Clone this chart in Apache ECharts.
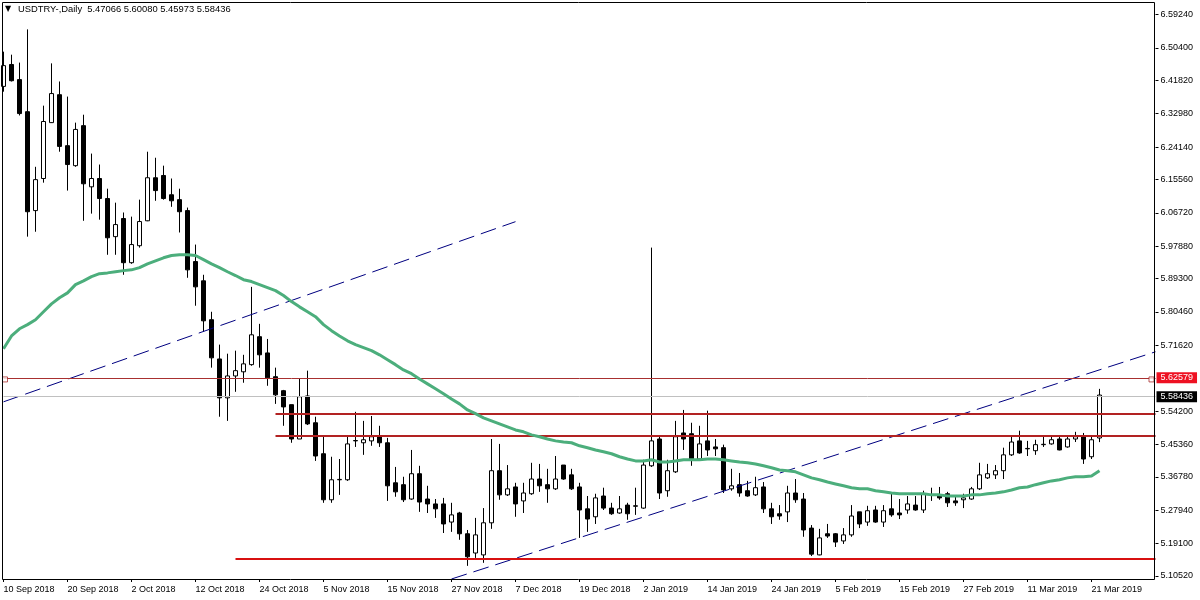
<!DOCTYPE html>
<html><head><meta charset="utf-8">
<script src="https://cdn.jsdelivr.net/npm/echarts@6/dist/echarts.min.js"></script>
<style>html,body{margin:0;padding:0;background:#fff}#c{width:1200px;height:600px}</style>
</head><body><div id="c"></div>
<script>
const dateTicks=['10 Sep 2018','20 Sep 2018','2 Oct 2018','12 Oct 2018','24 Oct 2018','5 Nov 2018','15 Nov 2018','27 Nov 2018','7 Dec 2018','19 Dec 2018','2 Jan 2019','14 Jan 2019','24 Jan 2019','5 Feb 2019','15 Feb 2019','27 Feb 2019','11 Mar 2019','21 Mar 2019'];
const priceTicks=[6.5924,6.504,6.4182,6.3298,6.2414,6.1556,6.0672,5.9788,5.893,5.8046,5.7162,5.542,5.4536,5.3678,5.2794,5.191,5.1052];
const opens=[6.402,6.460,6.420,6.335,6.073,6.158,6.306,6.380,6.245,6.192,6.298,6.136,6.158,6.105,6.004,6.052,5.935,5.980,6.046,6.160,
6.166,6.115,6.102,6.073,5.938,5.887,5.784,5.680,5.577,5.635,5.646,5.665,5.739,5.696,5.633,5.596,5.559,5.468,5.582,5.511,
5.429,5.307,5.360,5.360,5.463,5.458,5.463,5.474,5.458,5.352,5.347,5.309,5.376,5.309,5.296,5.296,5.248,5.272,5.217,5.166,
5.161,5.246,5.384,5.320,5.341,5.304,5.323,5.362,5.347,5.336,5.399,5.373,5.341,5.283,5.262,5.317,5.285,5.272,5.293,5.291,
5.285,5.397,5.468,5.331,5.381,5.484,5.482,5.415,5.463,5.447,5.445,5.336,5.347,5.331,5.320,5.341,5.283,5.270,5.275,5.325,
5.309,5.232,5.161,5.217,5.217,5.198,5.214,5.275,5.248,5.280,5.248,5.283,5.272,5.280,5.293,5.280,5.320,5.317,5.323,5.304,
5.307,5.309,5.336,5.365,5.373,5.384,5.426,5.463,5.443,5.437,5.453,5.455,5.468,5.447,5.468,5.474,5.421,5.47066];
const closes=[6.457,6.417,6.330,6.070,6.155,6.309,6.383,6.243,6.195,6.288,6.144,6.158,6.105,6.001,6.036,5.935,5.983,6.044,6.160,6.126,
6.105,6.099,6.070,5.916,5.871,5.781,5.683,5.577,5.635,5.649,5.667,5.744,5.691,5.630,5.585,5.553,5.468,5.580,5.508,5.423,
5.307,5.360,5.361,5.455,5.464,5.466,5.474,5.458,5.344,5.328,5.307,5.376,5.301,5.296,5.283,5.243,5.267,5.217,5.156,5.214,
5.246,5.384,5.320,5.336,5.296,5.325,5.362,5.344,5.336,5.362,5.362,5.336,5.280,5.256,5.312,5.285,5.270,5.283,5.270,5.290,
5.399,5.463,5.325,5.384,5.474,5.468,5.413,5.455,5.439,5.442,5.333,5.344,5.325,5.317,5.339,5.283,5.262,5.264,5.325,5.307,
5.227,5.163,5.206,5.211,5.195,5.214,5.264,5.243,5.278,5.248,5.278,5.267,5.267,5.296,5.280,5.323,5.321,5.312,5.299,5.299,
5.312,5.336,5.373,5.376,5.384,5.426,5.460,5.431,5.442,5.453,5.454,5.466,5.439,5.468,5.474,5.415,5.466,5.58436];
const lows=[6.388,6.415,6.325,6.004,6.017,6.147,6.305,6.229,6.126,6.189,6.046,6.065,6.049,5.956,5.956,5.903,5.932,5.975,6.045,6.099,
6.102,6.083,6.015,5.895,5.821,5.752,5.657,5.527,5.516,5.593,5.617,5.662,5.657,5.609,5.561,5.503,5.458,5.468,5.505,5.410,
5.299,5.299,5.320,5.357,5.447,5.426,5.450,5.447,5.304,5.315,5.301,5.307,5.275,5.272,5.259,5.219,5.222,5.201,5.132,5.153,
5.140,5.230,5.307,5.317,5.262,5.272,5.320,5.328,5.299,5.333,5.360,5.333,5.206,5.222,5.243,5.280,5.267,5.270,5.254,5.267,
5.283,5.394,5.309,5.315,5.378,5.439,5.397,5.410,5.423,5.423,5.325,5.331,5.315,5.315,5.317,5.272,5.243,5.254,5.248,5.299,
5.209,5.158,5.160,5.206,5.182,5.190,5.209,5.232,5.238,5.246,5.235,5.262,5.256,5.270,5.278,5.272,5.304,5.307,5.288,5.291,
5.285,5.307,5.333,5.362,5.362,5.362,5.423,5.429,5.423,5.426,5.447,5.453,5.438,5.445,5.460,5.402,5.415,5.45973];
const highs=[6.494,6.486,6.465,6.553,6.189,6.351,6.463,6.415,6.375,6.306,6.327,6.224,6.195,6.131,6.094,6.068,6.057,6.102,6.229,6.213,
6.192,6.158,6.131,6.081,5.983,5.903,5.805,5.718,5.694,5.702,5.691,5.871,5.773,5.733,5.657,5.598,5.559,5.627,5.649,5.527,
5.474,5.421,5.415,5.476,5.540,5.516,5.529,5.503,5.471,5.394,5.368,5.439,5.397,5.344,5.309,5.312,5.299,5.275,5.227,5.259,
5.285,5.468,5.455,5.399,5.352,5.352,5.405,5.402,5.389,5.423,5.399,5.389,5.352,5.317,5.323,5.339,5.299,5.317,5.299,5.339,
5.413,5.975,5.474,5.413,5.516,5.545,5.511,5.503,5.543,5.468,5.453,5.389,5.378,5.357,5.368,5.354,5.299,5.293,5.344,5.362,
5.325,5.240,5.230,5.243,5.219,5.232,5.293,5.275,5.291,5.291,5.293,5.323,5.309,5.317,5.317,5.331,5.339,5.341,5.328,5.315,
5.323,5.341,5.405,5.402,5.399,5.445,5.474,5.490,5.463,5.466,5.474,5.476,5.474,5.474,5.487,5.484,5.474,5.6008];
const maValues=[5.707,5.741,5.760,5.771,5.784,5.805,5.826,5.842,5.855,5.877,5.887,5.898,5.906,5.908,5.911,5.914,5.916,5.922,5.932,5.940,
5.948,5.954,5.956,5.956,5.954,5.943,5.932,5.922,5.911,5.901,5.890,5.885,5.877,5.869,5.861,5.848,5.832,5.818,5.805,5.792,
5.771,5.755,5.741,5.728,5.718,5.710,5.702,5.691,5.678,5.665,5.651,5.641,5.627,5.614,5.601,5.588,5.574,5.561,5.545,5.535,
5.524,5.516,5.508,5.500,5.492,5.487,5.479,5.474,5.468,5.463,5.460,5.458,5.450,5.445,5.439,5.434,5.429,5.421,5.415,5.410,
5.410,5.413,5.407,5.407,5.410,5.413,5.413,5.413,5.415,5.415,5.413,5.410,5.407,5.405,5.402,5.397,5.392,5.386,5.384,5.381,
5.373,5.365,5.360,5.354,5.349,5.344,5.339,5.336,5.336,5.331,5.328,5.325,5.323,5.323,5.323,5.323,5.320,5.320,5.317,5.317,
5.317,5.320,5.320,5.323,5.325,5.328,5.333,5.339,5.341,5.347,5.352,5.357,5.360,5.365,5.368,5.368,5.370,5.384];
const resistanceLevels=[5.535,5.476];
const supportLevel=5.150;
const askPrice=5.62579;
const bidPrice=5.58436;
const header='USDTRY-,Daily  5.47066 5.60080 5.45973 5.58436';
const FONT='"Liberation Sans"';
const totalSlots=145;
const categories=[];
for(let i=0;i<totalSlots;i++){categories.push(i%8===0&&dateTicks[i/8]?dateTicks[i/8]:'');}
const candles=opens.map((o,i)=>[o,closes[i],lows[i],highs[i]]);
const chart=echarts.init(document.getElementById('c'),null,{renderer:'canvas'});
const seg=(a,b,s)=>[{coord:a,lineStyle:s,symbol:'none'},{coord:b,symbol:'none'}];
chart.setOption({
 animation:false,backgroundColor:'#fff',
 title:{text:'▼',left:5,top:5,padding:0,textStyle:{fontFamily:'"DejaVu Sans"',fontSize:8,fontWeight:'normal',color:'#000'}},
 graphic:[
  {type:'text',left:18,top:5,style:{text:header,font:'9.4px '+FONT,fill:'#000'}},
  {type:'rect',silent:true,z:10,shape:{x:2.5,y:2.5,width:1152,height:577},style:{fill:null,stroke:'#000',lineWidth:1}}
 ],
 grid:{left:3.5,right:44.5,top:2,bottom:21,show:false},
 xAxis:{type:'category',data:categories,boundaryGap:false,
  axisLine:{show:false},
  axisTick:{show:true,interval:7,length:3,lineStyle:{color:'#000'}},
  axisLabel:{interval:7,align:'left',margin:6,fontFamily:FONT,fontSize:9,color:'#000',showMaxLabel:false},
  splitLine:{show:false}},
 yAxis:{type:'value',position:'right',min:5.09716,max:6.62554,scale:true,
  axisLine:{show:false},
  axisTick:{show:true,length:3,customValues:priceTicks,lineStyle:{color:'#000'}},
  axisLabel:{customValues:priceTicks,margin:5,padding:[3,0,0,0],fontFamily:FONT,fontSize:9,color:'#000',formatter:v=>v.toFixed(5)},
  splitLine:{show:false}},
 series:[
  {type:'candlestick',data:candles,barWidth:5,clip:false,z:3,
   itemStyle:{color:'#fff',color0:'#000',borderColor:'#000',borderColor0:'#000',borderWidth:1}},
  {type:'line',data:maValues,showSymbol:false,smooth:false,z:5,lineStyle:{color:'#4cae7c',width:3},itemStyle:{color:'#4cae7c'}},
  {type:'line',data:[],z:4,silent:true,
   markLine:{silent:true,symbol:'none',animation:false,label:{show:false},data:[
    seg([0,5.5665],[64,6.0437],{color:'#000080',width:1,type:[16,7]}),
    seg([56,5.0972],[144,5.699],{color:'#000080',width:1,type:[16,7]}),
    seg([34,resistanceLevels[0]],[144,resistanceLevels[0]],{color:'#b22222',width:2,type:'solid'}),
    seg([34,resistanceLevels[1]],[144,resistanceLevels[1]],{color:'#b22222',width:2,type:'solid'}),
    seg([29,supportLevel],[144,supportLevel],{color:'#d81010',width:2,type:'solid'})
   ]}},
  {type:'line',data:[],z:2,silent:true,
   markLine:{silent:true,symbol:'none',animation:false,data:[
    {yAxis:askPrice,lineStyle:{color:'#a83030',width:1,type:'solid'},
     label:{show:true,position:'end',distance:1,formatter:()=>askPrice.toFixed(5),color:'#fff',backgroundColor:'#ee1122',padding:[1,4,1,4],fontFamily:FONT,fontSize:9}},
    {yAxis:bidPrice,lineStyle:{color:'#c0c0c0',width:1,type:'solid'},
     label:{show:true,position:'end',distance:1,formatter:()=>bidPrice.toFixed(5),color:'#fff',backgroundColor:'#000',padding:[1,4,1,4],fontFamily:FONT,fontSize:9}}
   ]}},
  {type:'scatter',clip:false,z:6,symbol:'rect',symbolSize:5,silent:true,
   itemStyle:{color:'#fff',borderColor:'#a83030',borderWidth:1},
   data:[{value:[0,askPrice],symbolOffset:[1.5,0]},{value:[144,askPrice],symbolOffset:[-4,0]}]}
 ]
});
</script></body></html>
